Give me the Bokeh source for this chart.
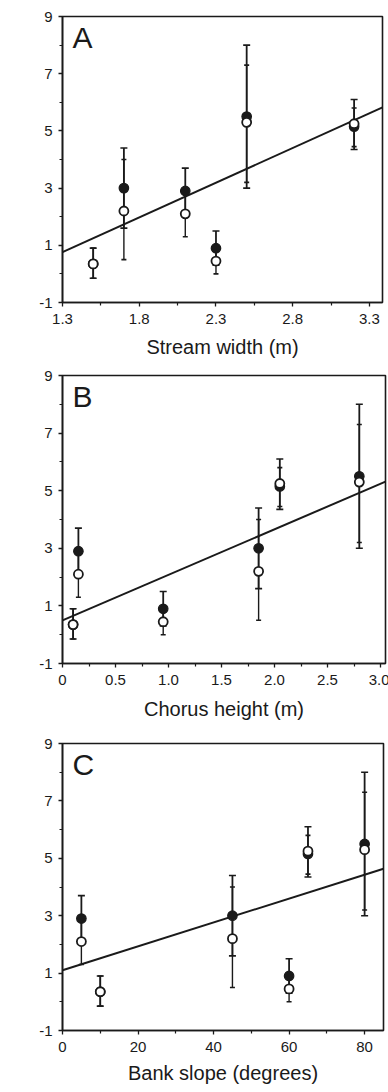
from bokeh.plotting import figure
from bokeh.layouts import column
from bokeh.models import FixedTicker, Label, Range1d
from bokeh.embed import file_html
from bokeh.resources import INLINE

# ---- data ----
stream_width = [1.5, 1.7, 2.1, 2.3, 2.5, 3.2]
chorus_height = [0.1, 1.85, 0.15, 0.95, 2.8, 2.05]
bank_slope = [10, 45, 5, 60, 80, 65]

filled_mean = [0.35, 3.0, 2.9, 0.9, 5.5, 5.15]
filled_lo = [-0.15, 1.6, 2.1, 0.3, 3.0, 4.35]
filled_hi = [0.9, 4.4, 3.7, 1.5, 8.0, 6.1]

open_mean = [0.35, 2.2, 2.1, 0.45, 5.3, 5.25]
open_lo = [-0.15, 0.5, 1.3, 0.0, 3.2, 4.45]
open_hi = [0.9, 4.0, 2.9, 0.9, 7.3, 5.8]

# regression lines (intercept, slope)
fit_a = (-2.40, 2.43)
fit_b = (0.50, 1.58)
fit_c = (1.10, 0.0416)

y_ticks = [-1, 1, 3, 5, 7, 9]
y_minor = [0, 2, 4, 6, 8]
y_labels = ["-1", "1", "3", "5", "7", "9"]

a_ticks = [1.3, 1.8, 2.3, 2.8, 3.3]
a_minor = [1.55, 2.05, 2.55, 3.05]
a_labels = ["1.3", "1.8", "2.3", "2.8", "3.3"]

b_ticks = [0, 0.5, 1.0, 1.5, 2.0, 2.5, 3.0]
b_minor = [0.25, 0.75, 1.25, 1.75, 2.25, 2.75]
b_labels = ["0", "0.5", "1.0", "1.5", "2.0", "2.5", "3.0"]

c_ticks = [0, 20, 40, 60, 80]
c_minor = [10, 30, 50, 70]
c_labels = ["0", "20", "40", "60", "80"]

FONT = "Liberation Sans"
INK = "#1a1a1a"


def panel(xs, xr, xt, xm, xl, xtitle, fit, letter, fw, fh, top, bottom, xstand, ytitle=None):
    p = figure(frame_width=fw, frame_height=fh, x_range=Range1d(*xr), y_range=Range1d(-1, 9),
               output_backend="svg", toolbar_location=None,
               min_border_top=top, min_border_bottom=bottom, min_border_left=62, min_border_right=4)
    p.grid.visible = False
    p.outline_line_color = INK
    p.outline_line_width = 1.6
    p.background_fill_color = "white"
    p.border_fill_color = "white"

    p.xaxis.ticker = FixedTicker(ticks=xt, minor_ticks=xm)
    p.xaxis.major_label_overrides = {t: l for t, l in zip(xt, xl)}
    p.yaxis.ticker = FixedTicker(ticks=y_ticks, minor_ticks=y_minor)
    p.yaxis.major_label_overrides = {t: l for t, l in zip(y_ticks, y_labels)}
    for ax in (p.xaxis, p.yaxis):
        ax.axis_line_color = INK
        ax.axis_line_width = 1.6
        ax.major_tick_line_color = INK
        ax.minor_tick_line_color = INK
        ax.major_tick_line_width = 1.3
        ax.minor_tick_line_width = 1.2
        ax.major_tick_out = 4
        ax.major_tick_in = 0
        ax.minor_tick_out = 3
        ax.minor_tick_in = 0
        ax.major_label_text_font = FONT
        ax.major_label_text_font_size = "15px"
        ax.major_label_text_color = INK
        ax.axis_label_text_font = FONT
        ax.axis_label_text_font_size = "20px"
        ax.axis_label_text_font_style = "normal"
        ax.axis_label_text_color = INK
    p.xaxis.major_label_standoff = 7
    p.yaxis.major_label_standoff = 6
    p.xaxis.axis_label = xtitle
    p.xaxis.axis_label_standoff = xstand
    if ytitle:
        p.yaxis.axis_label = ytitle
        p.yaxis.axis_label_standoff = 8

    # regression line across the frame
    x0, x1 = xr
    b0, b1 = fit
    p.line([x0, x1], [b0 + b1 * x0, b0 + b1 * x1], line_color=INK, line_width=2)

    # filled series error bars
    p.segment(xs, filled_lo, xs, filled_hi, line_color=INK, line_width=1.8)
    p.scatter(xs, filled_hi, marker="dash", size=7, line_color=INK, line_width=1.6)
    p.scatter(xs, filled_lo, marker="dash", size=7, line_color=INK, line_width=1.6)
    # open series error bars
    p.segment(xs, open_lo, xs, open_hi, line_color=INK, line_width=1.4)
    p.scatter(xs, open_hi, marker="dash", size=5, line_color=INK, line_width=1.6)
    p.scatter(xs, open_lo, marker="dash", size=5, line_color=INK, line_width=1.6)

    p.scatter(xs, filled_mean, marker="circle", size=9.5, fill_color=INK, line_color=INK, line_width=1.2)
    p.scatter(xs, open_mean, marker="circle", size=9, fill_color="white", line_color=INK, line_width=1.8)

    p.add_layout(Label(x=10, y=fh - 4, x_units="screen", y_units="screen", text=letter,
                       text_font=FONT, text_font_size="30px", text_color=INK,
                       text_baseline="top", text_align="left"))
    return p


pa = panel(stream_width, (1.3, 3.385), a_ticks, a_minor, a_labels, "Stream width (m)", fit_a, "A",
           320, 286, 16, 63, 9)
pb = panel(chorus_height, (0.0, 3.047), b_ticks, b_minor, b_labels, "Chorus height (m)", fit_b, "B",
           323, 288, 10, 72, 10)
pc = panel(bank_slope, (0.0, 85.0), c_ticks, c_minor, c_labels, "Bank slope (degrees)", fit_c, "C",
           321, 287, 8, 62, 7)

layout = column(pa, pb, pc, spacing=0)
open("out.html", "w").write(file_html(layout, INLINE))
